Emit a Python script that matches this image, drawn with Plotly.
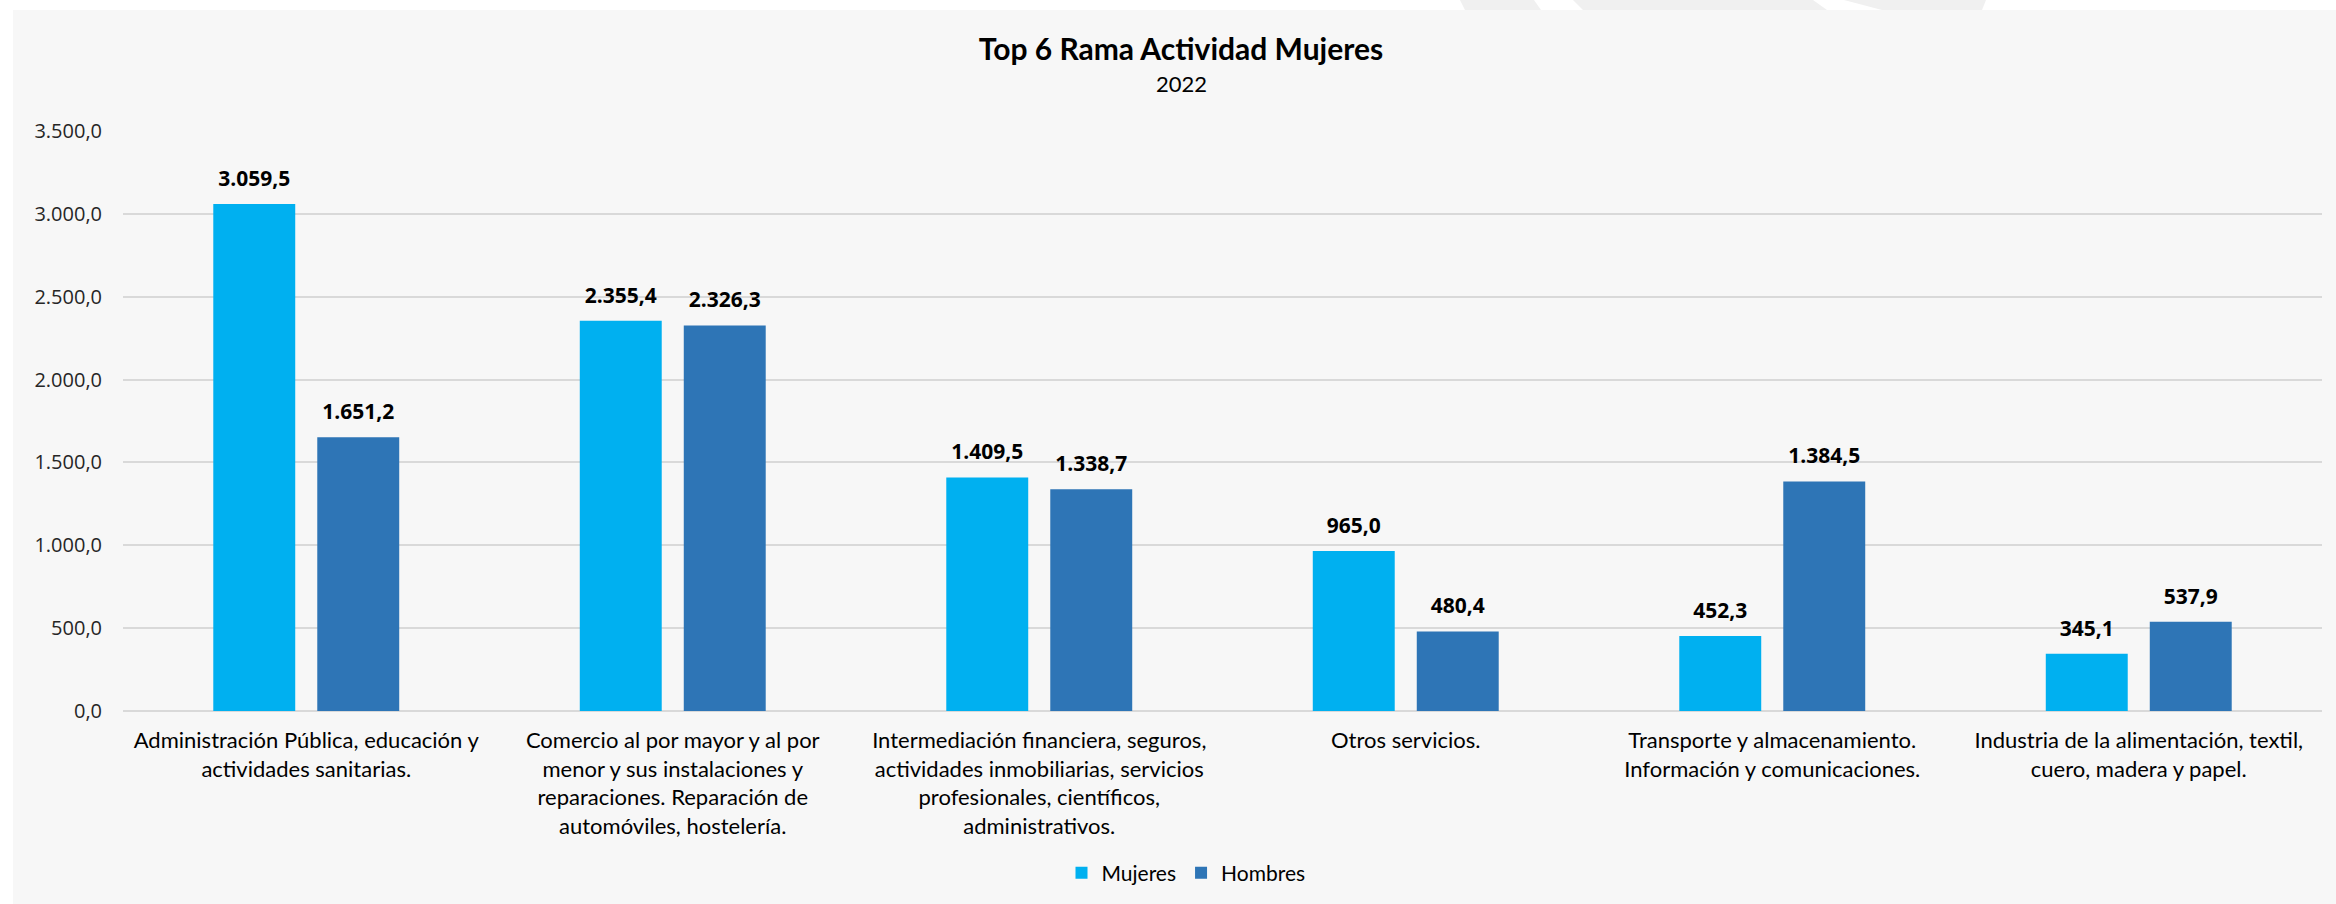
import plotly.graph_objects as go

# ---- data ----
categories = [
    "Administración Pública, educación y<br>actividades sanitarias.",
    "Comercio al por mayor y al por<br>menor y sus instalaciones y<br>reparaciones. Reparación de<br>automóviles, hostelería.",
    "Intermediación financiera, seguros,<br>actividades inmobiliarias, servicios<br>profesionales, científicos,<br>administrativos.",
    "Otros servicios.",
    "Transporte y almacenamiento.<br>Información y comunicaciones.",
    "Industria de la alimentación, textil,<br>cuero, madera y papel.",
]
mujeres = [3059.5, 2355.4, 1409.5, 965.0, 452.3, 345.1]
hombres = [1651.2, 2326.3, 1338.7, 480.4, 1384.5, 537.9]
series_names = ["Mujeres", "Hombres"]
y_ticks = [0, 500, 1000, 1500, 2000, 2500, 3000, 3500]

title_text = "Top 6 Rama Actividad Mujeres"
subtitle_text = "2022"

# ---- style ----
W, H = 2336, 904
ML, MR, MT, MB = 123, 14, 131, 193
colors = ["#00B0F0", "#2E75B6"]
BG = "#F7F7F7"
GRID = "#D9D9D9"
CAT_FONT = "Lato"
NUM_FONT = "Open Sans"
BARGAP = 0.4325

plot_w = W - ML - MR
plot_h = H - MT - MB


def px_x(px):
    return (px - ML) / plot_w


def px_y(py):
    return (H - MB - py) / plot_h


fig = go.Figure()
for name, vals, col in zip(series_names, [mujeres, hombres], colors):
    fig.add_trace(go.Bar(
        x=categories, y=vals, name=name,
        marker=dict(color=col, line=dict(width=0)),
        hoverinfo="x+y",
    ))
# value labels, grouped the same way as the bars
for name, vals in zip(series_names, [mujeres, hombres]):
    fig.add_trace(go.Scatter(
        x=categories, y=vals, mode="markers+text",
        text=vals, texttemplate="%{y:,.1f}", textposition="top center",
        textfont=dict(family=NUM_FONT, size=21, color="#000000", weight="bold"),
        marker=dict(size=19, opacity=0),
        showlegend=False, hoverinfo="skip", cliponaxis=False,
    ))

shapes = [
    dict(type="rect", xref="paper", yref="paper", layer="below",
         x0=px_x(13), x1=px_x(W + 5), y0=px_y(10), y1=px_y(H + 5),
         fillcolor=BG, line=dict(width=0)),
]
# faint watermark strokes above the panel
for poly in [
    [(1460, 0), (1534, 0), (1541, 10), (1465, 10)],
    [(1573, 0), (1813, 0), (1827, 10), (1583, 10)],
    [(1844, 0), (1986, 0), (1982, 10), (1882, 10)],
]:
    path = "M " + " L ".join(f"{px_x(x):.5f},{px_y(y):.5f}" for x, y in poly) + " Z"
    shapes.append(dict(type="path", xref="paper", yref="paper", layer="below",
                       path=path, fillcolor="#F0F0F0", line=dict(width=0)))

TITLE_CX = 1181

fig.update_layout(
    width=W, height=H,
    margin=dict(l=ML, r=MR, t=MT, b=MB, autoexpand=False),
    paper_bgcolor="#FFFFFF", plot_bgcolor="rgba(0,0,0,0)",
    separators=",.",
    barmode="group", bargap=BARGAP, bargroupgap=0.212,
    scattermode="group", scattergap=BARGAP,
    title=dict(text=f"<b>{title_text}</b>", x=px_x(TITLE_CX), xref="paper", xanchor="center",
               y=1 - 49 / H, yanchor="middle",
               font=dict(family=CAT_FONT, size=30, color="#000000")),
    annotations=[dict(text=subtitle_text, xref="paper", yref="paper",
                      x=px_x(TITLE_CX), y=px_y(83), xanchor="center", yanchor="middle",
                      showarrow=False, font=dict(family=CAT_FONT, size=22, color="#000000"))],
    shapes=shapes,
    showlegend=True,
    legend=dict(orientation="h", x=px_x(1186), xanchor="center", y=px_y(873), yanchor="middle",
                font=dict(family=CAT_FONT, size=21, color="#000000"),
                bgcolor="rgba(0,0,0,0)", traceorder="normal"),
    xaxis=dict(showgrid=False, showline=False, zeroline=False, ticks="",
               tickfont=dict(family=CAT_FONT, size=22, color="#000000"),
               ticklabelstandoff=14, fixedrange=True),
    yaxis=dict(range=[0, 3500], tickvals=y_ticks, tickformat=",.1f",
               showgrid=True, gridcolor=GRID, gridwidth=1.5,
               zeroline=True, zerolinecolor=GRID, zerolinewidth=2,
               showline=False, ticks="",
               tickfont=dict(family=NUM_FONT, size=20, color="#262626"),
               ticklabelstandoff=20, fixedrange=True),
    font=dict(family=CAT_FONT, color="#000000"),
)

fig.write_html("out.html", config={"displayModeBar": False},
               post_script="document.body.style.margin='0';")
